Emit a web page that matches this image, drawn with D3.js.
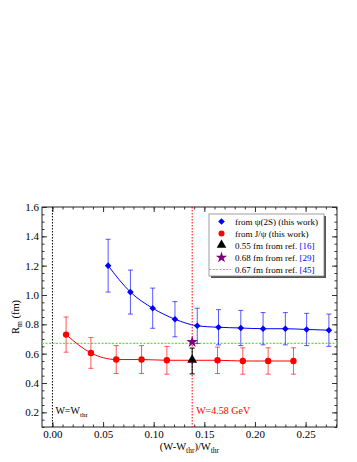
<!DOCTYPE html>
<html>
<head>
<meta charset="utf-8">
<script src="https://cdn.jsdelivr.net/npm/d3@7"></script>
<style>
  body { margin: 0; background: #fff; }
  text { font-family: "Liberation Serif", "DejaVu Serif", serif; }
</style>
</head>
<body>
<script>
// psi(2S) points
const psiX = [0.055, 0.077, 0.099, 0.121, 0.143, 0.164, 0.186, 0.208, 0.230, 0.251, 0.273];
const psiR = [1.20, 1.02, 0.91, 0.835, 0.79, 0.78, 0.775, 0.77, 0.77, 0.765, 0.76];
const psiErr = [0.18, 0.15, 0.137, 0.12, 0.12, 0.12, 0.12, 0.11, 0.11, 0.11, 0.11];

// J/psi points
const jpsiX = [0.0135, 0.038, 0.063, 0.088, 0.113, 0.163, 0.188, 0.213, 0.238];
const jpsiR = [0.73, 0.605, 0.56, 0.56, 0.555, 0.555, 0.55, 0.55, 0.55];
const jpsiErr = [0.12, 0.105, 0.095, 0.095, 0.095, 0.09, 0.09, 0.09, 0.09];

// other refs
const refX = 0.138;
const ref16 = 0.55, ref16Err = 0.088;
const ref29 = 0.68;
const ref45 = 0.67;

const xTicks = [0.00, 0.05, 0.10, 0.15, 0.20, 0.25];
const yTicks = [0.2, 0.4, 0.6, 0.8, 1.0, 1.2, 1.4, 1.6];

const legendItems = [
  {label: "from ψ(2S) (this work)", ref: ""},
  {label: "from J/ψ (this work)", ref: ""},
  {label: "0.55 fm from ref. ", ref: "[16]"},
  {label: "0.68 fm from ref. ", ref: "[29]"},
  {label: "0.67 fm from ref. ", ref: "[45]"}
];

let margin = {top: 207, right: 20, bottom: 35, left: 42},
  width = 357 - margin.left - margin.right,
  height = 462 - margin.top - margin.bottom;

let svg = d3.select("body").append("svg")
  .attr("width", 357)
  .attr("height", 462)
  .append("g")
  .attr("transform", "translate(" + margin.left + "," + margin.top + ")");

let x = d3.scaleLinear().domain([-0.0103, 0.281]).range([0, width]);
let y = d3.scaleLinear().domain([0.1, 1.6]).range([height, 0]);

const blue = "#0000ff", red = "#ff0000";

// axes with inward ticks
function minor(step, lo, hi) {
  let out = [];
  for (let v = lo; v <= hi + 1e-9; v += step) out.push(+v.toFixed(4));
  return out;
}
const xMinor = minor(0.01, 0.0, 0.28);
const yMinor = minor(0.05, 0.1, 1.6);

svg.append("g").attr("transform", "translate(0," + height + ")")
  .call(d3.axisBottom(x).tickValues(xTicks).tickSize(-5).tickPadding(3).tickFormat(d3.format(".2f")))
  .call(g => g.select(".domain").remove());
svg.append("g").attr("transform", "translate(0," + height + ")")
  .call(d3.axisBottom(x).tickValues(xMinor).tickSize(-2.5).tickFormat(""))
  .call(g => g.select(".domain").remove());
svg.append("g")
  .call(d3.axisTop(x).tickValues(xTicks).tickSize(-5).tickFormat(""))
  .call(g => g.select(".domain").remove());
svg.append("g")
  .call(d3.axisTop(x).tickValues(xMinor).tickSize(-2.5).tickFormat(""))
  .call(g => g.select(".domain").remove());

svg.append("g")
  .call(d3.axisLeft(y).tickValues(yTicks).tickSize(-5).tickPadding(3).tickFormat(d3.format(".1f")))
  .call(g => g.select(".domain").remove());
svg.append("g")
  .call(d3.axisLeft(y).tickValues(yMinor).tickSize(-2.5).tickFormat(""))
  .call(g => g.select(".domain").remove());
svg.append("g").attr("transform", "translate(" + width + ",0)")
  .call(d3.axisRight(y).tickValues(yTicks).tickSize(-5).tickFormat(""))
  .call(g => g.select(".domain").remove());
svg.append("g").attr("transform", "translate(" + width + ",0)")
  .call(d3.axisRight(y).tickValues(yMinor).tickSize(-2.5).tickFormat(""))
  .call(g => g.select(".domain").remove());

svg.selectAll(".tick text")
  .attr("font-family", "Liberation Serif")
  .attr("font-size", 11)
  .attr("fill", "#000");
svg.selectAll(".tick line").attr("stroke", "#333");

// frame
svg.append("rect")
  .attr("width", width).attr("height", height)
  .attr("fill", "none").attr("stroke", "#222").attr("stroke-width", 1);

// reference lines
svg.append("line")
  .attr("x1", x(0)).attr("x2", x(0)).attr("y1", 0).attr("y2", height)
  .attr("stroke", "#000").attr("stroke-dasharray", "1.5,1.5");
svg.append("line")
  .attr("x1", x(refX)).attr("x2", x(refX)).attr("y1", 0).attr("y2", height)
  .attr("stroke", red).attr("stroke-dasharray", "1.5,1.5");
svg.append("line")
  .attr("x1", 0).attr("x2", width).attr("y1", y(ref45)).attr("y2", y(ref45))
  .attr("stroke", "#55f033").attr("stroke-width", 1.2).attr("stroke-dasharray", "2,1.5");

// curves
let line = d3.line().x(d => x(d[0])).y(d => y(d[1])).curve(d3.curveMonotoneX);
let psi = psiX.map((v, i) => [v, psiR[i], psiErr[i]]);
let jpsi = jpsiX.map((v, i) => [v, jpsiR[i], jpsiErr[i]]);

function errorBars(data, color) {
  let g = svg.append("g").attr("stroke", color).attr("stroke-opacity", 0.65).attr("stroke-width", 1);
  data.forEach(d => {
    g.append("line").attr("x1", x(d[0])).attr("x2", x(d[0]))
      .attr("y1", y(d[1] - d[2])).attr("y2", y(d[1] + d[2]));
    [d[1] - d[2], d[1] + d[2]].forEach(v => {
      g.append("line").attr("x1", x(d[0]) - 2.5).attr("x2", x(d[0]) + 2.5)
        .attr("y1", y(v)).attr("y2", y(v));
    });
  });
}
errorBars(psi, blue);
errorBars(jpsi, red);

svg.append("path").datum(psi).attr("fill", "none").attr("stroke", blue).attr("stroke-width", 1).attr("d", line);
svg.append("path").datum(jpsi).attr("fill", "none").attr("stroke", red).attr("stroke-width", 1).attr("d", line);

let diamond = d3.symbol().type(d3.symbolSquare).size(22);
svg.selectAll(".psi").data(psi).enter().append("path")
  .attr("d", diamond)
  .attr("transform", d => "translate(" + x(d[0]) + "," + y(d[1]) + ") rotate(45)")
  .attr("fill", blue);
svg.selectAll(".jpsi").data(jpsi).enter().append("circle")
  .attr("cx", d => x(d[0])).attr("cy", d => y(d[1])).attr("r", 3.2)
  .attr("fill", red);

// ref [16] triangle with error bar
let eg = svg.append("g").attr("stroke", "#000").attr("stroke-width", 1);
eg.append("line").attr("x1", x(refX)).attr("x2", x(refX))
  .attr("y1", y(ref16 - ref16Err)).attr("y2", y(ref16 + ref16Err));
[ref16 - ref16Err, ref16 + ref16Err].forEach(v => {
  eg.append("line").attr("x1", x(refX) - 2.5).attr("x2", x(refX) + 2.5).attr("y1", y(v)).attr("y2", y(v));
});
svg.append("path").attr("d", d3.symbol().type(d3.symbolTriangle).size(42))
  .attr("transform", "translate(" + x(refX) + "," + (y(ref16) - 1) + ")")
  .attr("fill", "#000");
svg.append("path").attr("d", d3.symbol().type(d3.symbolStar).size(42))
  .attr("transform", "translate(" + x(refX) + "," + y(ref29) + ")")
  .attr("fill", "#800080");

// in-plot labels
let t1 = svg.append("text").attr("x", x(0) + 3).attr("y", height - 13).attr("font-size", 10);
t1.append("tspan").text("W=W");
t1.append("tspan").attr("font-size", 7).attr("dy", 2.5).text("thr");
svg.append("text").attr("x", x(refX) + 4).attr("y", height - 13.5)
  .attr("font-size", 10).attr("fill", red).text("W=4.58 GeV");

// axis labels
let xl = svg.append("text").attr("x", width / 2).attr("y", height + 23)
  .attr("text-anchor", "middle").attr("font-size", 10.5);
xl.append("tspan").text("(W-W");
xl.append("tspan").attr("font-size", 7.5).attr("dy", 2.5).text("thr");
xl.append("tspan").attr("dy", -2.5).text(")/W");
xl.append("tspan").attr("font-size", 7.5).attr("dy", 2.5).text("thr");

let yl = svg.append("text")
  .attr("transform", "translate(" + (-23) + "," + (height / 2) + ") rotate(-90)")
  .attr("text-anchor", "middle").attr("font-size", 10.5);
yl.append("tspan").text("R");
yl.append("tspan").attr("font-size", 7.5).attr("dy", 2.5).text("m");
yl.append("tspan").attr("dy", -2.5).text(" (fm)");

// legend
let lg = svg.append("g").attr("transform", "translate(" + (209 - margin.left) + "," + (214 - margin.top) + ")");
lg.append("rect").attr("x", 2).attr("y", 2).attr("width", 115).attr("height", 62).attr("fill", "#555");
lg.append("rect").attr("width", 115).attr("height", 62).attr("fill", "#fff").attr("stroke", "#888").attr("stroke-width", 0.8);
legendItems.forEach((item, i) => {
  let cy = 7.5 + i * 12;
  let sx = 12.5;
  if (i === 0) {
    lg.append("path").attr("d", diamond).attr("transform", "translate(" + sx + "," + cy + ") rotate(45)").attr("fill", blue);
  } else if (i === 1) {
    lg.append("circle").attr("cx", sx).attr("cy", cy).attr("r", 3).attr("fill", red);
  } else if (i === 2) {
    lg.append("path").attr("d", d3.symbol().type(d3.symbolTriangle).size(40))
      .attr("transform", "translate(" + sx + "," + (cy - 0.5) + ")").attr("fill", "#000");
  } else if (i === 3) {
    lg.append("path").attr("d", d3.symbol().type(d3.symbolStar).size(40))
      .attr("transform", "translate(" + sx + "," + cy + ")").attr("fill", "#800080");
  } else {
    lg.append("line").attr("x1", 0).attr("x2", 22).attr("y1", cy).attr("y2", cy)
      .attr("stroke", "#55f033").attr("stroke-width", 1.2).attr("stroke-dasharray", "2,1.5");
  }
  let t = lg.append("text").attr("x", 26).attr("y", cy + 3).attr("font-size", 9);
  t.append("tspan").text(item.label);
  if (item.ref) t.append("tspan").attr("fill", blue).text(item.ref);
});
</script>
</body>
</html>
